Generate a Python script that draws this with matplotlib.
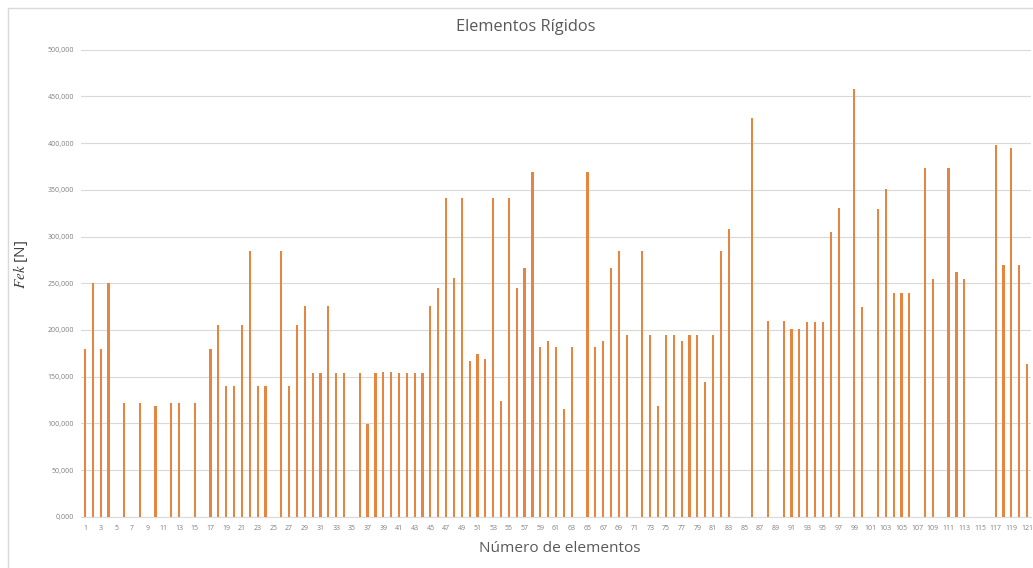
import matplotlib
matplotlib.use("Agg")
import matplotlib.pyplot as plt
from matplotlib.lines import Line2D
from matplotlib.ticker import FuncFormatter

plt.rcParams['font.family'] = ['Open Sans', 'DejaVu Sans']
plt.rcParams['mathtext.fontset'] = 'stix'

# element numbers 1..121
elementos = list(range(1, 122))

# Fek [N] per element (0 = no bar)
fek = [
    180000, 250000, 180000, 250000, 0, 122000, 0, 122000, 0, 118000,
    0, 122000, 122000, 0, 122000, 0, 180000, 205000, 140000, 140000,
    205000, 284000, 140000, 140000, 0, 284000, 140000, 205000, 226000, 154000,
    154000, 226000, 154000, 154000, 0, 154000, 99000, 154000, 155000, 155000,
    154000, 154000, 154000, 154000, 226000, 245000, 341000, 256000, 341000, 167000,
    174000, 169000, 341000, 124000, 341000, 245000, 266000, 369000, 182000, 188000,
    182000, 115000, 182000, 0, 369000, 182000, 188000, 266000, 285000, 195000,
    0, 285000, 195000, 119000, 195000, 195000, 188000, 195000, 195000, 144000,
    195000, 285000, 308000, 0, 0, 427000, 0, 209000, 0, 209000,
    201000, 201000, 208000, 208000, 208000, 305000, 330000, 0, 458000, 224000,
    0, 329000, 351000, 240000, 240000, 240000, 0, 373000, 254000, 0,
    373000, 262000, 254000, 0, 0, 0, 398000, 269000, 395000, 269000,
    163000,
]

y_ticks = [0, 50000, 100000, 150000, 200000, 250000, 300000, 350000, 400000, 450000, 500000]

W, H = 1033, 568
fig = plt.figure(figsize=(W / 100, H / 100), dpi=100)
ax = fig.add_axes([81 / W, 51.3 / H, 950 / W, 467 / H])

ax.bar(elementos, fek, width=0.28, color='#E68540', zorder=3)

ax.set_xlim(0.5, 121.5)
ax.set_ylim(0, 500000)
ax.set_yticks(y_ticks)
ax.yaxis.set_major_formatter(FuncFormatter(lambda v, p: f"{v/1000:.3f}".replace('.', ',')))
ax.set_xticks(elementos[::2])
ax.set_xticklabels([str(e) for e in elementos[::2]])
ax.tick_params(axis='both', length=0, labelsize=5, colors='#7F7F7F')
ax.tick_params(axis='x', pad=6)
ax.tick_params(axis='y', pad=5)

ax.grid(axis='y', color='#D9D9D9', linewidth=0.8, zorder=0)
for s in ['top', 'right', 'left']:
    ax.spines[s].set_visible(False)
ax.spines['bottom'].set_color('#D9D9D9')

ax.set_ylabel('$Fek$ [N]', fontsize=11, color='#404040')
ax.yaxis.set_label_coords(-0.054, 0.54)

fig.text(526 / W, 1 - 27 / H, 'Elementos Rígidos', ha='center', va='center',
         fontsize=11.8, color='#595959')
fig.text(560 / W, 1 - 549 / H, 'Número de elementos', ha='center', va='center',
         fontsize=11.1, color='#595959')

# chart area border (cropped on right and bottom)
fig.add_artist(Line2D([8 / W, 8 / W], [0, 1 - 8 / H], transform=fig.transFigure,
                      color='#D9D9D9', linewidth=1))
fig.add_artist(Line2D([8 / W, 1], [1 - 8 / H, 1 - 8 / H], transform=fig.transFigure,
                      color='#D9D9D9', linewidth=1))

fig.savefig('out.png', dpi=100)
